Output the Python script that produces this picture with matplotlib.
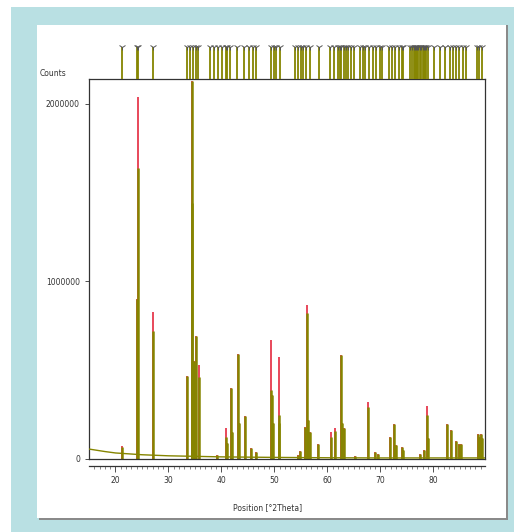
import matplotlib
matplotlib.use("Agg")
import matplotlib.pyplot as plt
from matplotlib.patches import Rectangle

# background
bg_theta = [15, 18, 20, 25, 30, 40, 50, 60, 70, 80, 90]
bg_counts = [56000, 42000, 34000, 24000, 18000, 12000, 9000, 7000, 6000, 6000, 6000]

# peaks: position, observed counts (red), calculated counts (olive)
peak_pos = [21.2, 24.05, 24.25, 27.0, 33.6, 34.45, 34.55, 34.9, 35.2, 35.85,
            39.1, 40.9, 41.1, 41.9, 42.1, 43.15, 43.3, 44.5, 45.6, 46.6,
            49.35, 49.6, 49.8, 50.8, 50.95, 54.5, 54.8, 55.8, 56.2, 56.45,
            56.7, 58.3, 60.75, 61.55, 62.6, 62.8, 63.2, 65.3, 67.7, 69.1,
            69.6, 71.9, 72.7, 73.0, 74.1, 74.3, 77.5, 78.3, 78.8, 79.0,
            82.55, 83.45, 84.3, 84.8, 85.2, 88.4, 88.7, 89.0, 89.3]
peak_obs = [73000, 900000, 2040000, 830000, 470000, 1440000, 2130000, 550000, 690000, 530000,
            25000, 175000, 90000, 400000, 150000, 590000, 200000, 240000, 62000, 41000,
            670000, 360000, 200000, 200000, 575000, 25000, 45000, 180000, 870000, 220000,
            150000, 85000, 150000, 175000, 585000, 200000, 175000, 15000, 320000, 40000,
            30000, 125000, 195000, 80000, 70000, 50000, 30000, 50000, 300000, 120000,
            197000, 163000, 100000, 85000, 85000, 140000, 125000, 140000, 120000]
peak_calc = [70000, 900000, 1640000, 720000, 470000, 1440000, 2130000, 550000, 690000, 460000,
             25000, 125000, 90000, 400000, 150000, 590000, 200000, 240000, 62000, 41000,
             390000, 360000, 200000, 200000, 245000, 25000, 45000, 180000, 820000, 220000,
             150000, 85000, 125000, 155000, 585000, 200000, 175000, 15000, 295000, 40000,
             30000, 125000, 195000, 80000, 70000, 50000, 30000, 50000, 250000, 120000,
             197000, 163000, 100000, 85000, 85000, 140000, 125000, 140000, 120000]

# reference pattern lines in the top strip
ref_pos = [21.26, 24.1, 24.3, 27.1, 33.5, 34.0, 34.6, 35.2, 35.5, 37.9, 38.7, 39.4,
           40.1, 40.8, 41.0, 41.7, 43.0, 44.2, 45.2, 46.0, 46.6, 49.4, 49.9, 50.3,
           51.0, 54.0, 54.5, 55.0, 55.5, 56.0, 56.7, 58.4, 60.6, 61.2, 62.1, 62.4,
           62.6, 63.1, 63.6, 64.0, 64.5, 65.0, 66.2, 66.7, 67.2, 67.8, 68.7, 69.2,
           69.9, 70.3, 71.6, 72.2, 72.8, 73.5, 74.1, 74.4, 75.7, 76.0, 76.3, 76.6,
           76.8, 77.0, 77.2, 77.5, 77.7, 78.0, 78.2, 78.5, 78.7, 79.1, 80.1, 81.3,
           82.3, 83.1, 83.7, 84.3, 84.9, 85.6, 86.3, 88.2, 88.7, 89.2]

olive = "#858500"
red = "#e8485a"

fig = plt.figure(figsize=(5.14, 5.32), dpi=100)
fig.patch.set_facecolor("white")

# frame decoration
fig.add_artist(Rectangle((11 / 514, 0), 503 / 514, 525 / 532, transform=fig.transFigure,
                         facecolor="#b9e0e3", edgecolor="none", zorder=-3))
fig.add_artist(Rectangle((39 / 514, 12 / 532), 469 / 514, 495 / 532, transform=fig.transFigure,
                         facecolor="#8a8a8a", edgecolor="none", zorder=-2))
fig.add_artist(Rectangle((37 / 514, 14 / 532), 469 / 514, 493 / 532, transform=fig.transFigure,
                         facecolor="white", edgecolor="none", zorder=-1))

ax = fig.add_axes([89 / 514, 73 / 532, 396 / 514, 380 / 532])
ax.set_facecolor("none")
ax.plot(bg_theta, bg_counts, color=olive, lw=1.0, zorder=3)
ax.vlines(peak_pos, 0, peak_obs, color=red, lw=1.4, zorder=1)
ax.vlines(peak_pos, 0, peak_calc, color=olive, lw=1.8, zorder=2)

ax.set_xlim(15, 89.8)
ax.set_ylim(0, 2140000)
ax.set_yticks([0, 1000000, 2000000])
ax.set_yticklabels(["0", "1000000", "2000000"])
ax.set_xticks(range(20, 90, 10))
ax.set_xticks(range(16, 90, 1), minor=True)
ax.tick_params(axis="both", labelsize=5.5, colors="#333333", width=0.6, length=3)
ax.tick_params(axis="x", which="minor", length=2, width=0.5, colors="#555555")
ax.tick_params(axis="x", which="major", length=4)
for s in ax.spines.values():
    s.set_color("#333333")
    s.set_linewidth(0.9)
ax.spines["bottom"].set_position(("outward", 5))
ax.plot([0, 1], [0, 0], transform=ax.transAxes, color="#333333", lw=0.9, clip_on=False)
ax.set_xlabel("Position [°2Theta]", fontsize=5.5, color="#333333")
ax.xaxis.set_label_coords(0.45, -0.115)
fig.text(40 / 514, 1 - 74 / 532, "Counts", fontsize=5.5, color="#333333", va="center")

# top strip with the reference lines
ax2 = fig.add_axes([89 / 514, 453 / 532, 396 / 514, 36 / 532])
ax2.set_xlim(15, 89.8)
ax2.set_ylim(0, 1)
ax2.vlines(ref_pos, 0, 0.88, color=olive, lw=1.3)
ax2.plot(ref_pos, [0.9] * len(ref_pos), ls="none", marker="1", ms=5,
         color="#555555", mew=0.7)
ax2.axis("off")

fig.savefig("out.png", dpi=100)
